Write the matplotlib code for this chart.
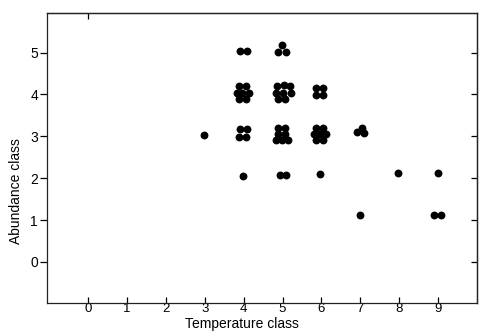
import numpy as np
import matplotlib.pyplot as plt

plt.rcParams['font.family'] = ['Liberation Sans', 'DejaVu Sans']

# temperature class / abundance class, with the small offsets used to
# separate overlapping samples
temperature = [2.98,
               3.90, 4.08,
               4.99, 4.89, 5.10,
               3.87, 4.05, 3.82, 3.97, 4.15, 3.87, 4.05,
               4.85, 5.03, 5.18, 4.82, 5.00, 5.22, 4.87, 5.05,
               5.86, 6.04, 5.86, 6.04,
               3.90, 4.08, 3.87, 4.05,
               4.89, 5.05, 4.87, 5.05, 4.84, 4.99, 5.15,
               5.86, 6.04, 5.81, 5.96, 6.11, 5.86, 6.04,
               6.90, 7.03, 7.10,
               3.99,
               4.94, 5.10,
               5.96,
               6.98,
               7.97,
               8.99,
               8.89, 9.07]
abundance = [3.03,
             5.04, 5.04,
             5.18, 5.01, 5.01,
             4.20, 4.20, 4.03, 4.03, 4.03, 3.89, 3.89,
             4.20, 4.22, 4.20, 4.03, 4.03, 4.03, 3.89, 3.89,
             4.15, 4.15, 3.98, 3.98,
             3.17, 3.17, 2.98, 2.98,
             3.20, 3.20, 3.06, 3.06, 2.91, 2.91, 2.91,
             3.20, 3.20, 3.06, 3.06, 3.06, 2.91, 2.91,
             3.10, 3.20, 3.08,
             2.05,
             2.08, 2.08,
             2.10,
             1.12,
             2.12,
             2.12,
             1.12, 1.12]

x_ticks = list(range(0, 10))
y_ticks = list(range(0, 6))

fig = plt.figure(figsize=(4.81, 3.31), dpi=100)
ax = fig.add_axes([0.098, 0.085, 0.894, 0.876])

ax.scatter(temperature, abundance, s=32, c='black', linewidths=0, zorder=3)

ax.set_xlim(-1.05, 10.0)
ax.set_ylim(-0.98, 5.95)
ax.set_xticks(x_ticks)
ax.set_yticks(y_ticks)

for side in ax.spines.values():
    side.set_linewidth(0.9)
    side.set_color('#222222')

ax.tick_params(axis='x', direction='in', length=4, width=0.9, pad=0.3,
               labelsize=9.5)
ax.tick_params(axis='y', direction='out', length=5, width=0.9, pad=1.5,
               labelsize=10)

# inward ticks on the right-hand frame, a single one at the top
right = ax.secondary_yaxis('right')
right.set_yticks(y_ticks)
right.tick_params(direction='in', length=4, width=0.9, labelright=False)
right.spines['right'].set_linewidth(0.9)
right.spines['right'].set_color('#222222')

top = ax.secondary_xaxis('top')
top.set_xticks([0])
top.tick_params(direction='in', length=4, width=0.9, labeltop=False)
top.spines['top'].set_linewidth(0.9)
top.spines['top'].set_color('#222222')

ax.set_xlabel('Temperature class', fontsize=10, labelpad=0)
ax.xaxis.set_label_coords(0.453, -0.050)
ax.set_ylabel('Abundance class', fontsize=10, labelpad=4)
ax.yaxis.set_label_coords(-0.055, 0.386)

fig.savefig('out.png', dpi=100)
